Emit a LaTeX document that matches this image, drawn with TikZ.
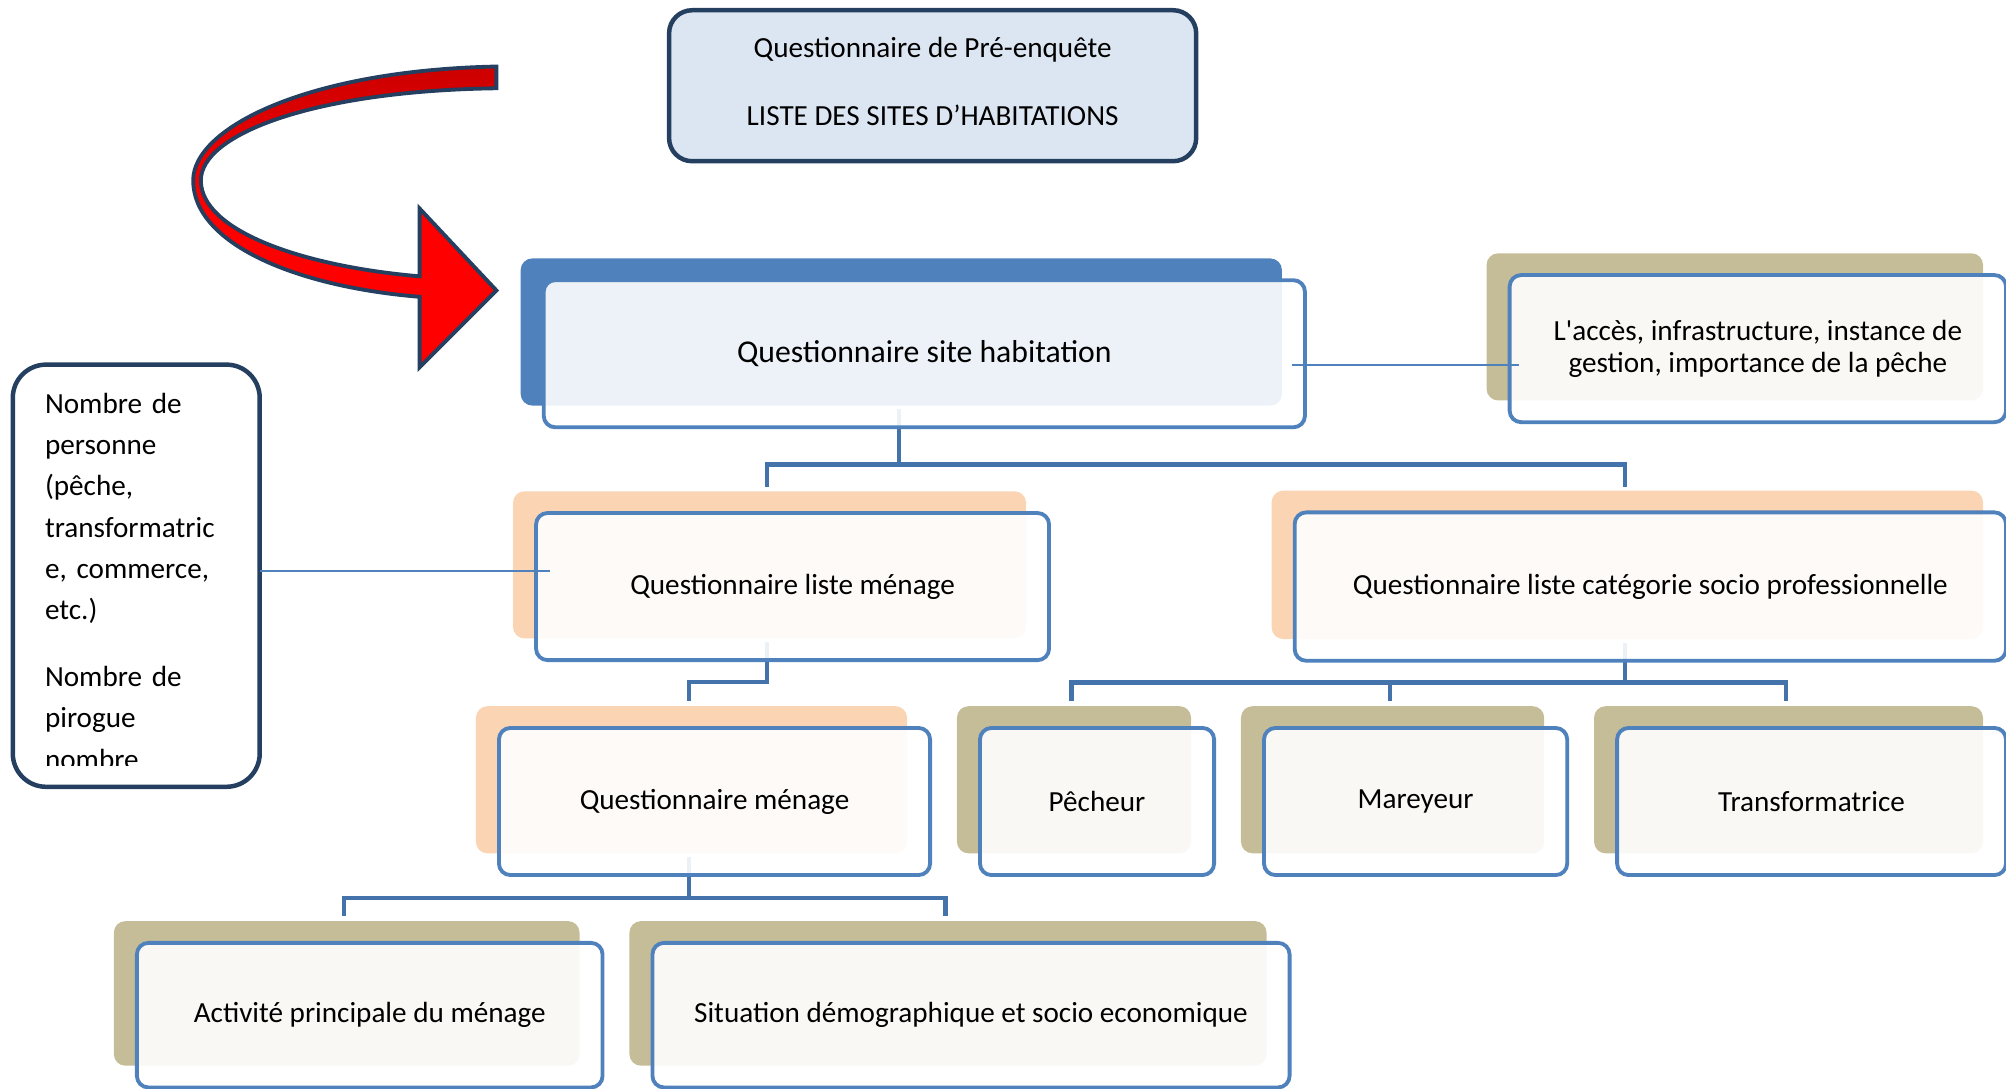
\documentclass[tikz,border=0pt]{standalone}
\usepackage{fontspec}
\setmainfont{Carlito}
\usetikzlibrary{positioning}
\definecolor{bleucadre}{RGB}{79,129,189}
\definecolor{bleulien}{RGB}{68,114,170}
\definecolor{marine}{RGB}{36,63,96}
\definecolor{bleupale}{RGB}{220,230,242}
\definecolor{peche}{RGB}{251,212,180}
\definecolor{kaki}{RGB}{196,189,151}
\definecolor{rougefonce}{RGB}{204,0,0}
\pgfdeclarelayer{fond}
\pgfsetlayers{fond,main}

\begin{document}
\begin{tikzpicture}[x=1pt, y=-1pt,
    boite/.style={rectangle, rounded corners=9pt, draw=bleucadre, line width=3pt,
      fill=white, fill opacity=0.9, text opacity=1, draw opacity=1, outer sep=0pt,
      align=center, font=\fontsize{22.8}{25}\selectfont, anchor=north west,
      preaction={draw=none, fill=#1, fill opacity=1,
        transform canvas={xshift=-18pt, yshift=17pt}}},
    cadre/.style={rectangle, draw=marine, line width=3.5pt, anchor=north west, outer sep=0pt},
    arbre/.style={draw=bleulien, line width=3.5pt},
    fin/.style={draw=bleucadre, line width=1.5pt},
    fleche/.style={draw=marine, line width=3pt, top color=rougefonce, bottom color=red, middle color=red}
  ]
  \useasboundingbox (0,0) rectangle (1568,851);

  % en-tete
  \node[cadre, fill=bleupale, rounded corners=18pt, minimum width=412, minimum height=118,
    align=center, text depth=7pt, font=\fontsize{22.8}{26}\selectfont] (pre) at (523,8)
    {Questionnaire de Pré-enquête\\[27pt]LISTE DES SITES D’HABITATIONS};

  % fleche courbe
  \draw[fleche] (388,52) .. controls (240,55) and (151,100) .. (151,141)
    .. controls (151,190) and (230,224) .. (328,232) -- (328,287) -- (388,227)
    -- (328,163) -- (328,216) .. controls (235,208) and (157,180) .. (157,141)
    .. controls (157,105) and (245,71) .. (388,69) -- cycle;

  % boites
  \node[boite=bleucadre, minimum width=595, minimum height=115,
    font=\fontsize{24.8}{28}\selectfont] (site) at (425,219) {Questionnaire site habitation};
  \node[boite=kaki, minimum width=388, minimum height=115, right=160pt of site, yshift=4pt] (acces)
    {L\textquotesingle accès, infrastructure, instance de\\gestion, importance de la pêche};
  \node[boite=peche, minimum width=401, minimum height=115] (lmen) at (419,401) {Questionnaire liste ménage};
  \node[boite=peche, minimum width=556, minimum height=116, right=192pt of lmen] (lcat)
    {Questionnaire liste catégorie socio professionnelle};
  \node[boite=peche, minimum width=337, minimum height=115] (men) at (390,569) {Questionnaire ménage};
  \node[boite=kaki, minimum width=183, minimum height=115, right=39pt of men] (pech) {Pêcheur};
  \node[boite=kaki, minimum width=237, minimum height=115, right=39pt of pech] (mar) {Mareyeur};
  \node[boite=kaki, minimum width=304, minimum height=115, right=39pt of mar] (trans) {Transformatrice};
  \node[boite=kaki, minimum width=364, minimum height=113] (act) at (107,737) {Activité principale du ménage};
  \node[boite=kaki, minimum width=498, minimum height=113, right=39pt of act] (sit)
    {Situation démographique et socio economique};

  % encadre gauche
  \node[cadre, fill=white, rounded corners=26pt, minimum width=193, minimum height=330] (nombre) at (10,285) {};
  \begin{scope}
    \clip (16,291) rectangle (197,598);
    \node[anchor=north west, inner sep=0pt, align=left, text width=170pt,
      font=\fontsize{22.8}{32.3}\selectfont] (nbtexte) at (35,307)
      {Nombre de\\personne\\(pêche,\\transformatric\\e, commerce,\\etc.)\\[19.7pt]Nombre de\\pirogue\\nombre};
  \end{scope}

  % liens de l'arbre
  \begin{pgfonlayer}{fond}
    \coordinate (busA) at ([xshift=-20pt,yshift=-29pt]site.south);
    \draw[arbre] ([xshift=-20pt,yshift=14pt]site.south) -- (busA) -| ([xshift=-20pt,yshift=20pt]lmen.north);
    \draw[arbre] (busA) -| ([xshift=-20pt,yshift=20pt]lcat.north);
    \coordinate (busB) at ([xshift=-20pt,yshift=-17pt]lmen.south);
    \draw[arbre] ([xshift=-20pt,yshift=14pt]lmen.south) -- (busB) -| ([xshift=-20pt,yshift=21pt]men.north);
    \coordinate (busC) at ([xshift=-20pt,yshift=-17pt]lcat.south);
    \draw[arbre] ([xshift=-20pt,yshift=14pt]lcat.south) -- (busC) -| ([xshift=-20pt,yshift=21pt]pech.north);
    \draw[arbre] (busC) -| ([xshift=-20pt,yshift=21pt]mar.north);
    \draw[arbre] (busC) -| ([xshift=-20pt,yshift=21pt]trans.north);
    \coordinate (busD) at ([xshift=-20pt,yshift=-18pt]men.south);
    \draw[arbre] ([xshift=-20pt,yshift=14pt]men.south) -- (busD) -| ([xshift=-20pt,yshift=21pt]act.north);
    \draw[arbre] (busD) -| ([xshift=-20pt,yshift=21pt]sit.north);
  \end{pgfonlayer}

  % liens fins
  \coordinate (finsite) at ([xshift=-10pt,yshift=-8.5pt]site.east);
  \coordinate (finacc) at ([xshift=7pt]acces.west);
  \draw[fin] (finsite) -- (finsite -| finacc);
  \coordinate (finmen) at ([xshift=11pt,yshift=12.5pt]lmen.west);
  \draw[fin] (nombre.east |- finmen) -- (finmen);
\end{tikzpicture}
\end{document}
